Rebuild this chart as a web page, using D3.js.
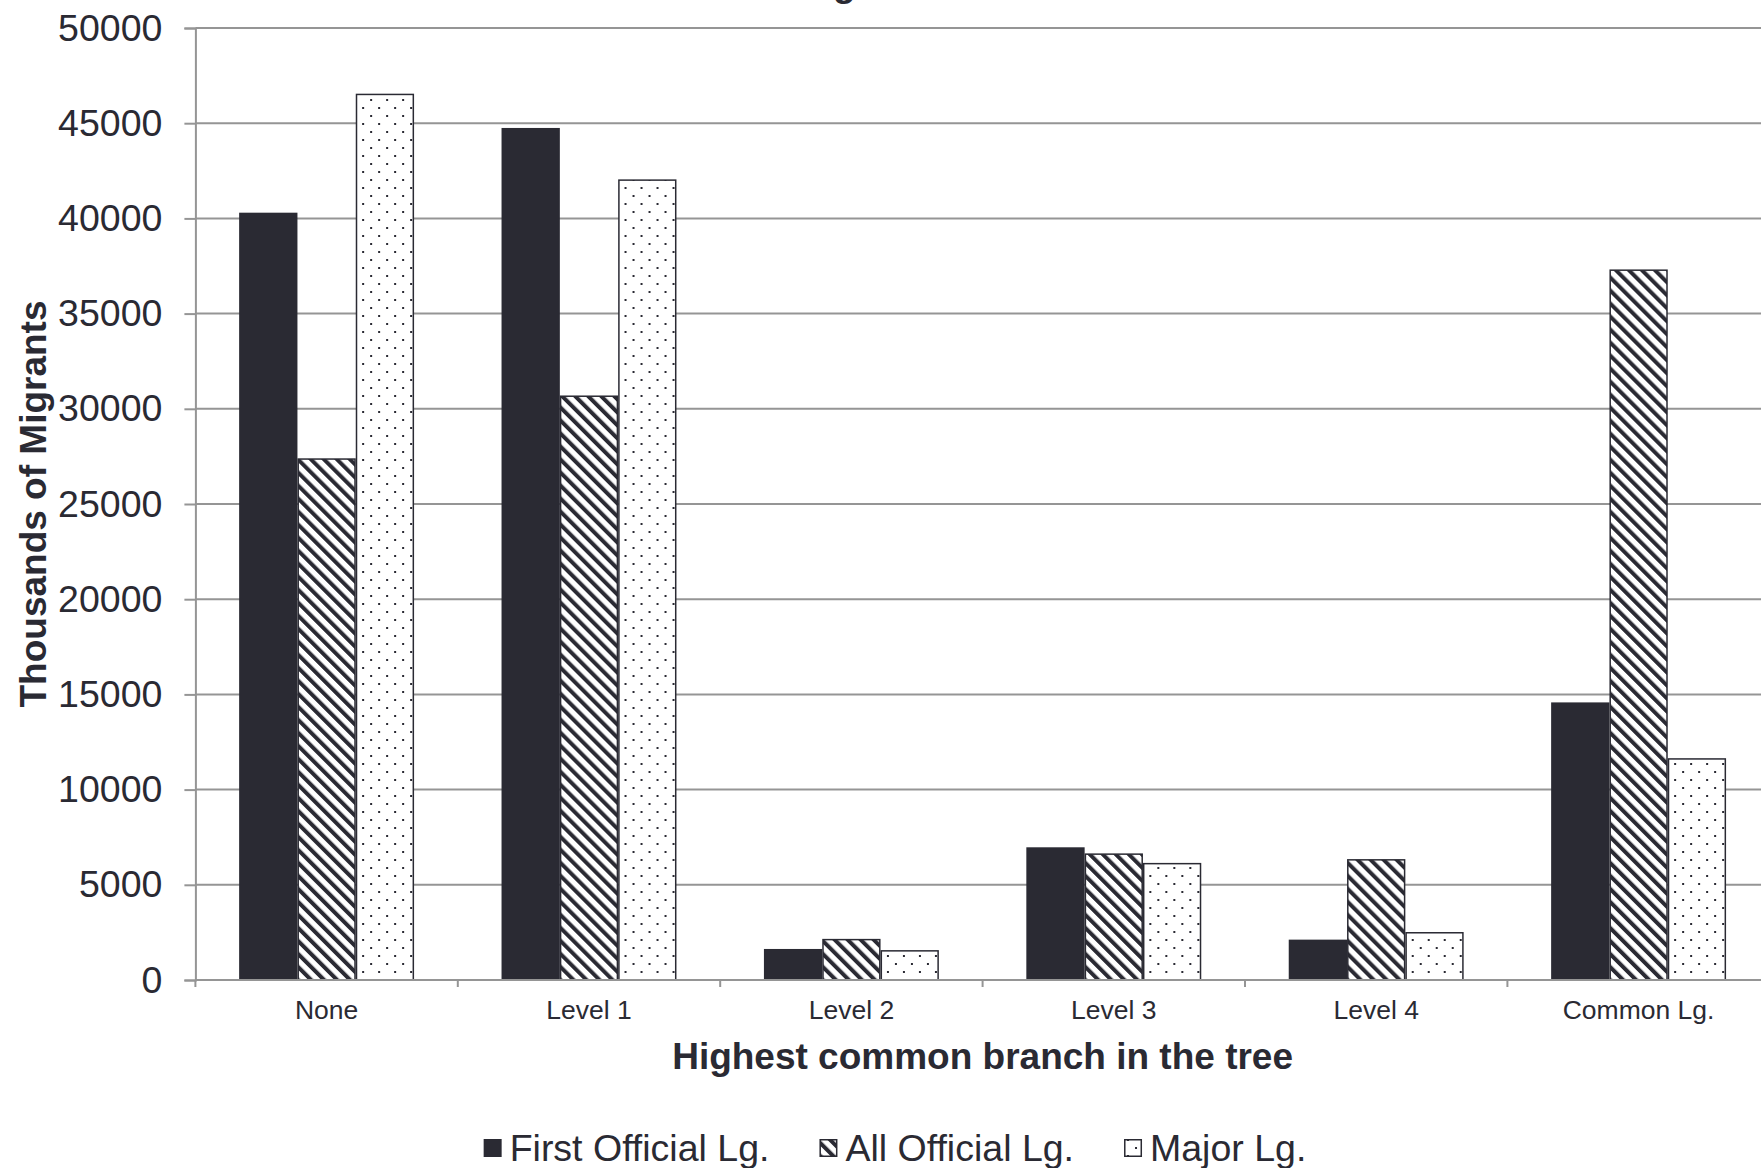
<!DOCTYPE html>
<html>
<head>
<meta charset="utf-8">
<script src="https://cdn.jsdelivr.net/npm/d3@7"></script>
<style>
  html, body { margin: 0; padding: 0; background: #ffffff; overflow: hidden; }
  svg { display: block; font-family: "Liberation Sans", Arial, sans-serif; }
</style>
</head>
<body>
<svg id="chart" width="1761" height="1168"></svg>
<script>
// Migrant counts (thousands) by highest common branch in the language tree
const categories = ["None", "Level 1", "Level 2", "Level 3", "Level 4", "Common Lg."];
const seriesNames = ["First Official Lg.", "All Official Lg.", "Major Lg."];
const firstOfficial = [40300, 44750, 1630, 6970, 2120, 14580];
const allOfficial   = [27400, 30700, 2160, 6650, 6350, 37320];
const majorLg       = [46550, 42050, 1570, 6150, 2520, 11650];
const yTicks = [0, 5000, 10000, 15000, 20000, 25000, 30000, 35000, 40000, 45000, 50000];

const seriesValues = [firstOfficial, allOfficial, majorLg];
const rows = categories.map((c, i) => ({
  category: c,
  values: seriesNames.map((s, k) => ({ series: s, k, value: seriesValues[k][i] }))
}));

const ink = "#2a2a33";
const gridColor = "#959595";

const svg = d3.select("#chart");
const defs = svg.append("defs");

// Wide downward diagonal hatch
const hatch = defs.append("pattern")
  .attr("id", "hatch")
  .attr("patternUnits", "userSpaceOnUse")
  .attr("width", 9.2).attr("height", 9.2)
  .attr("patternTransform", "rotate(-45)");
hatch.append("rect").attr("width", 9.2).attr("height", 9.2).attr("fill", "#ffffff");
hatch.append("rect").attr("x", 0).attr("width", 4).attr("height", 9.2).attr("fill", ink);

// Staggered dot grid
const dots = defs.append("pattern")
  .attr("id", "dots")
  .attr("patternUnits", "userSpaceOnUse")
  .attr("width", 16).attr("height", 16);
dots.append("rect").attr("width", 16).attr("height", 16).attr("fill", "#ffffff");
dots.append("rect").attr("x", 3).attr("y", 3).attr("width", 2).attr("height", 2).attr("fill", ink);
dots.append("rect").attr("x", 11).attr("y", 11).attr("width", 2).attr("height", 2).attr("fill", ink);

const fills = ["solid", "url(#hatch)", "url(#dots)"];

// Plot frame
const plotLeft = 195.4, plotRight = 1769.8, plotTop = 28, plotBottom = 980;

const y = d3.scaleLinear().domain([0, 50000]).range([plotBottom, plotTop]);
const x0 = d3.scaleBand().domain(categories).range([plotLeft, plotRight])
  .paddingInner(1 / 3).paddingOuter(1 / 6);
const x1 = d3.scaleBand().domain(seriesNames).range([0, x0.bandwidth()]).padding(0);

// Chart title (sits above the frame; only the descender is in view)
svg.append("text")
  .attr("x", 833).attr("y", -4)
  .attr("font-size", 37).attr("font-weight", "bold").attr("fill", ink)
  .text("g");

// Horizontal gridlines
svg.append("g").selectAll("line").data(yTicks.filter(t => t > 0)).join("line")
  .attr("x1", plotLeft).attr("x2", 1761)
  .attr("y1", d => y(d)).attr("y2", d => y(d))
  .attr("stroke", gridColor).attr("stroke-width", 2);

// Y axis
const yAxis = svg.append("g")
  .attr("transform", `translate(${plotLeft},0)`)
  .call(d3.axisLeft(y).tickValues(yTicks).tickSize(11).tickPadding(22).tickFormat(d3.format("d")));
yAxis.select(".domain").attr("stroke", gridColor).attr("stroke-width", 2);
yAxis.selectAll(".tick line").attr("stroke", gridColor).attr("stroke-width", 2);
yAxis.selectAll(".tick text")
  .attr("font-size", 37.5).attr("fill", ink)
  .attr("font-family", "'Liberation Sans', Arial, sans-serif");

// Bars
const groups = svg.append("g").selectAll("g").data(rows).join("g")
  .attr("transform", d => `translate(${x0(d.category)},0)`);

groups.selectAll("rect").data(d => d.values).join("rect")
  .attr("x", d => x1(d.series) + (d.k === 0 ? 0 : 0.75))
  .attr("width", d => x1.bandwidth() - (d.k === 0 ? 0 : 1.5))
  .attr("y", d => y(d.value) + (d.k === 0 ? 0 : 0.75))
  .attr("height", d => plotBottom - y(d.value) - (d.k === 0 ? 0 : 0.75))
  .attr("fill", d => d.k === 0 ? ink : fills[d.k])
  .attr("stroke", d => d.k === 0 ? "none" : ink)
  .attr("stroke-width", d => d.k === 0 ? 0 : 1.5);

// X axis line and category boundary ticks
const step = x0.step();
const boundaries = d3.range(categories.length + 1).map(i => plotLeft + i * step);
svg.append("line")
  .attr("x1", plotLeft).attr("x2", plotRight)
  .attr("y1", plotBottom).attr("y2", plotBottom)
  .attr("stroke", gridColor).attr("stroke-width", 2);
svg.append("g").selectAll("line").data(boundaries).join("line")
  .attr("x1", d => d).attr("x2", d => d)
  .attr("y1", plotBottom).attr("y2", plotBottom + 7)
  .attr("stroke", gridColor).attr("stroke-width", 2);

svg.append("g").selectAll("text").data(categories).join("text")
  .attr("x", d => x0(d) + x0.bandwidth() / 2)
  .attr("y", 1019)
  .attr("text-anchor", "middle")
  .attr("font-size", 26.5).attr("fill", ink)
  .text(d => d);

// Axis titles
svg.append("text")
  .attr("x", (plotLeft + plotRight) / 2).attr("y", 1069)
  .attr("text-anchor", "middle")
  .attr("font-size", 37).attr("font-weight", "bold").attr("fill", ink)
  .text("Highest common branch in the tree");

svg.append("text")
  .attr("transform", `translate(46,${(plotTop + plotBottom) / 2}) rotate(-90)`)
  .attr("text-anchor", "middle")
  .attr("font-size", 37).attr("font-weight", "bold").attr("fill", ink)
  .text("Thousands of Migrants");

// Legend
const legend = svg.append("g");
const sw = 18, swGap = 8, itemGap = 50, legendY = 1148;
let cursor = 0;
seriesNames.forEach((name, k) => {
  const item = legend.append("g").attr("transform", `translate(${cursor},0)`);
  item.append("rect")
    .attr("x", k === 0 ? 0 : 0.75).attr("y", legendY - sw / 2 + (k === 0 ? 0 : 0.75))
    .attr("width", k === 0 ? sw : sw - 1.5).attr("height", k === 0 ? sw : sw - 1.5)
    .attr("fill", k === 0 ? ink : fills[k])
    .attr("stroke", k === 0 ? "none" : ink).attr("stroke-width", 1.5);
  const t = item.append("text")
    .attr("x", sw + swGap).attr("y", 1161)
    .attr("font-size", 37.5).attr("fill", ink)
    .text(name);
  cursor += sw + swGap + t.node().getComputedTextLength() + itemGap;
});
const legendWidth = cursor - itemGap;
legend.attr("transform", `translate(${895 - legendWidth / 2},0)`);
</script>
</body>
</html>
